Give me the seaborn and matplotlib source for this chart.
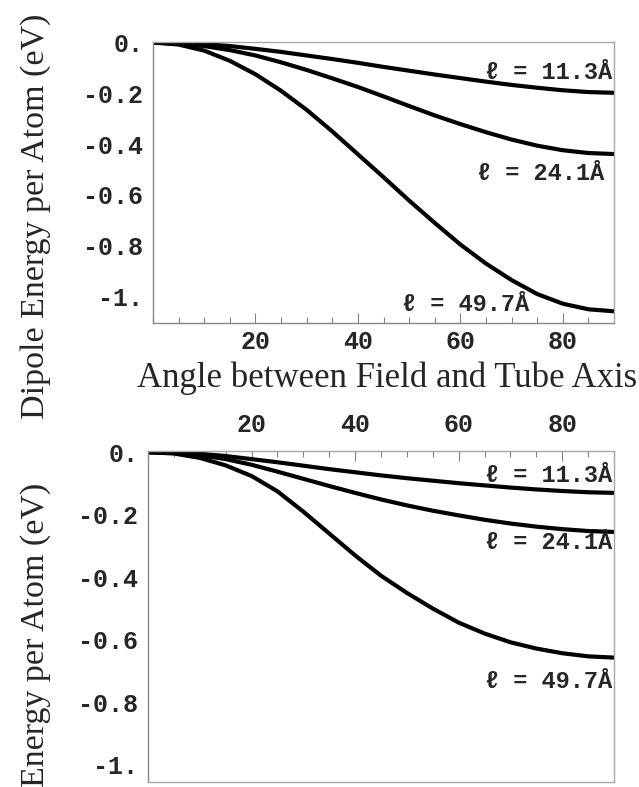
import numpy as np
import pandas as pd
import matplotlib
matplotlib.use("Agg")
import matplotlib.pyplot as plt
import seaborn as sns
from matplotlib.ticker import MultipleLocator, FixedLocator

# ---- data ----
angles = [0, 5, 10, 15, 20, 25, 30, 35, 40, 45, 50, 55, 60, 65, 70, 75, 80, 85, 90]

top_113 = [0, -0.002, -0.006, -0.014, -0.025, -0.037, -0.051, -0.065, -0.080, -0.096,
           -0.111, -0.126, -0.140, -0.154, -0.167, -0.178, -0.188, -0.195, -0.198]
top_241 = [0, -0.004, -0.014, -0.030, -0.051, -0.078, -0.108, -0.141, -0.175, -0.212,
           -0.250, -0.287, -0.321, -0.353, -0.382, -0.406, -0.424, -0.435, -0.439]
top_497 = [0, -0.008, -0.032, -0.072, -0.125, -0.190, -0.265, -0.350, -0.440, -0.530,
           -0.622, -0.710, -0.795, -0.870, -0.935, -0.990, -1.028, -1.050, -1.058]

bot_113 = [0, -0.001, -0.005, -0.012, -0.022, -0.032, -0.043, -0.054, -0.064, -0.074,
           -0.083, -0.091, -0.099, -0.106, -0.113, -0.119, -0.124, -0.128, -0.130]
bot_241 = [0, -0.002, -0.009, -0.022, -0.040, -0.062, -0.085, -0.108, -0.130, -0.151,
           -0.170, -0.187, -0.202, -0.216, -0.228, -0.238, -0.246, -0.252, -0.255]
bot_497 = [0, -0.004, -0.018, -0.042, -0.076, -0.125, -0.190, -0.260, -0.330, -0.395,
           -0.450, -0.500, -0.545, -0.580, -0.608, -0.628, -0.643, -0.653, -0.657]

series_labels = ["\u2113 = 11.3\u00c5", "\u2113 = 24.1\u00c5", "\u2113 = 49.7\u00c5"]
x_ticks = [20, 40, 60, 80]
x_ticklabels = ["20", "40", "60", "80"]
y_ticks = [0, -0.2, -0.4, -0.6, -0.8, -1.0]
y_ticklabels = ["0.", "-0.2", "-0.4", "-0.6", "-0.8", "-1."]
x_title = "Angle between Field and Tube Axis"
y_title_top = "Dipole Energy per Atom (eV)"
y_title_bottom = "Energy per Atom (eV)"

sns.set_style("white")
mono = ["Liberation Mono", "DejaVu Sans Mono"]
serif = ["Liberation Serif", "DejaVu Serif"]

W, H = 639.0, 787.0
fig = plt.figure(figsize=(6.39, 7.87), dpi=100)
# top panel: x 153..614, y 42..323 (pixels)
ax1 = fig.add_axes([153 / W, 1 - 323 / H, (614 - 153) / W, (323 - 42) / H])
# bottom panel: x 148..614, y 451..782
ax2 = fig.add_axes([148 / W, 1 - 782 / H, (614 - 148) / W, (782 - 451) / H])


def draw(ax, ys, ylim, xtop, label_pos, xpad):
    df = pd.DataFrame({"angle": angles * 3,
                       "energy": ys[0] + ys[1] + ys[2],
                       "series": sum([[s] * len(angles) for s in series_labels], [])})
    sns.lineplot(data=df, x="angle", y="energy", units="series", estimator=None,
                 color="black", linewidth=3.0, ax=ax, legend=False)
    ax.set_xlim(0, 90)
    ax.set_ylim(*ylim)
    ax.set_xlabel("")
    ax.set_ylabel("")
    ax.xaxis.set_major_locator(FixedLocator(x_ticks))
    ax.xaxis.set_minor_locator(MultipleLocator(5))
    ax.yaxis.set_major_locator(FixedLocator(y_ticks))
    ax.yaxis.set_minor_locator(MultipleLocator(0.05))
    ax.set_xticklabels(x_ticklabels)
    ax.set_yticklabels(y_ticklabels)
    if xtop:
        ax.xaxis.tick_top()
    ax.tick_params(axis="both", which="both", direction="in", color="#808080",
                   width=0.8, labelsize=18)
    ax.tick_params(axis="both", which="major", length=7)
    ax.tick_params(axis="both", which="minor", length=4)
    ax.tick_params(axis="x", which="both", bottom=not xtop, top=xtop, pad=xpad)
    ax.tick_params(axis="y", which="both", right=False, pad=7)
    for lab in ax.get_xticklabels() + ax.get_yticklabels():
        lab.set_family(mono)
        lab.set_fontweight("bold")
    for s in ax.spines.values():
        s.set_color("#a8a8a8")
        s.set_linewidth(1.0)
    ax.spines["left"].set_color("#888888")
    if not xtop:
        ax.spines["bottom"].set_color("#888888")
    for (x, y, ha), txt in zip(label_pos, series_labels):
        ax.text(x, y, txt, ha=ha, va="center", fontsize=17, fontweight="bold",
                family=mono)


draw(ax1, [top_113, top_241, top_497], (-1.104, 0.002), False,
     [(89.6, -0.12, "right"), (88.0, -0.515, "right"), (73.5, -1.03, "right")], 5)
draw(ax2, [bot_113, bot_241, bot_497], (-1.055, 0.004), True,
     [(89.6, -0.074, "right"), (89.6, -0.29, "right"), (89.6, -0.735, "right")], 10)

fig.text(0.606, 1 - 378 / H, x_title, ha="center", va="center", fontsize=25,
         family=serif)
fig.text(0.056, 1 - 14 / H, y_title_top, ha="center", va="top", rotation=90,
         fontsize=24.5, family=serif)
fig.text(0.056, 0.0, y_title_bottom, ha="center", va="bottom", rotation=90,
         fontsize=24.5, family=serif)

fig.savefig("out.png", dpi=100)
